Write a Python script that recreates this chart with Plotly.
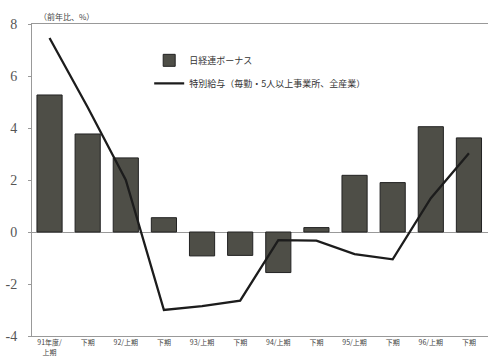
import plotly.graph_objects as go

categories = ["91年度/<br>上期", "下期", "92/上期", "下期", "93/上期", "下期",
              "94/上期", "下期", "95/上期", "下期", "96/上期", "下期"]
bonus = [5.27, 3.77, 2.85, 0.55, -0.92, -0.9, -1.56, 0.17, 2.18, 1.9, 4.05, 3.62]
special_pay = [7.46, 4.8, 2.0, -3.0, -2.85, -2.64, -0.31, -0.33, -0.85, -1.05, 1.3, 3.03]
y_ticks = [-4, -2, 0, 2, 4, 6, 8]
y_tick_labels = ["-4", "-2", "0", "2", "4", "6", "8"]

x_idx = list(range(len(categories)))

fig = go.Figure()
fig.add_trace(go.Bar(
    x=x_idx, y=bonus, name="日経連ボーナス",
    marker=dict(color="#4e4e47", line=dict(color="#222", width=1)),
    width=0.66, legendgroup="a",
))
fig.add_trace(go.Scatter(
    x=x_idx, y=special_pay, name="特別給与（毎勤・5人以上事業所、全産業）",
    mode="lines", line=dict(color="#1c1c1c", width=2.3),
    legendgroup="b",
))

fig.update_layout(
    width=488, height=357,
    margin=dict(l=32, r=0, t=24, b=21),
    paper_bgcolor="white", plot_bgcolor="white",
    font=dict(family="Noto Sans CJK JP", color="#333"),
    showlegend=True,
    legend=dict(
        x=0.257, y=0.93, xanchor="left", yanchor="top",
        font=dict(size=9, color="#333"),
        bgcolor="rgba(0,0,0,0)", itemwidth=30,
        tracegroupgap=4,
    ),
)
fig.update_xaxes(
    tickmode="array", tickvals=x_idx, ticktext=categories,
    range=[-0.46, 11.5], automargin=False,
    showline=True, linecolor="#999", mirror=True,
    ticks="", tickfont=dict(size=7, color="#444"),
    showgrid=False,
)
fig.update_yaxes(
    range=[-4, 8], tickmode="array", tickvals=y_ticks, ticktext=y_tick_labels,
    automargin=False,
    showline=True, linecolor="#999", mirror=True,
    ticks="outside", ticklen=3, tickcolor="#999", ticklabelstandoff=8,
    tickfont=dict(size=14, color="#555", family="Liberation Serif"),
    showgrid=False, zeroline=True, zerolinecolor="#999", zerolinewidth=1,
)
fig.add_annotation(
    text="（前年比、%）", xref="paper", yref="paper", x=0.01, y=1.0,
    xanchor="left", yanchor="bottom", showarrow=False,
    font=dict(size=8, color="#444"),
)

# page body has a default 8px margin; remove it so the figure fills the window
fig.write_html("out.html", config={"displayModeBar": False},
               post_script="document.body.style.margin='0';")
